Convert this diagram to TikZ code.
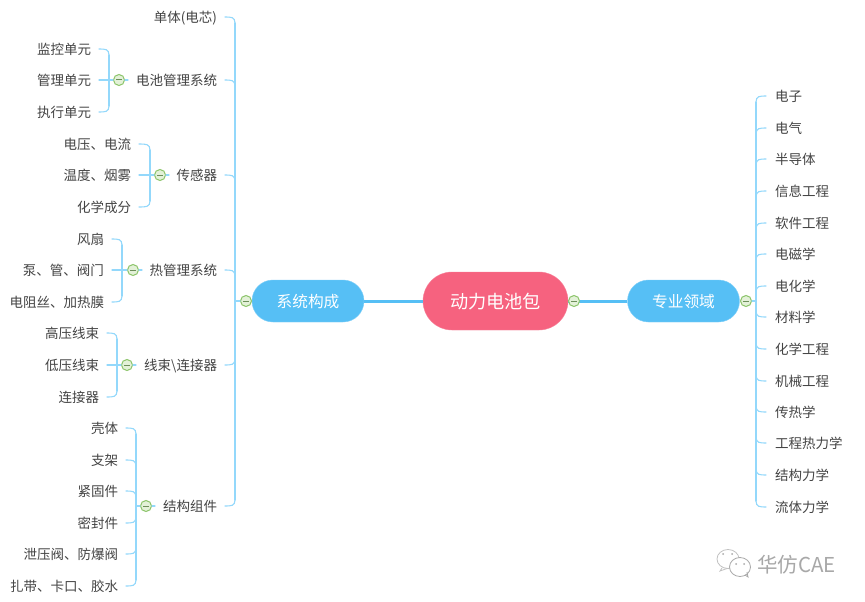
\documentclass[tikz,border=0pt]{standalone}
\usepackage{fontspec}
\setmainfont{Noto Sans CJK SC}
\definecolor{txt}{HTML}{444444}
\definecolor{pink}{HTML}{F6627F}
\definecolor{sky}{HTML}{56BFF5}
\definecolor{branchc}{HTML}{93D8FB}
\definecolor{tog}{HTML}{8CC46A}
\definecolor{togfill}{HTML}{E3F1D8}
\definecolor{minusc}{HTML}{6E8F5A}
\definecolor{wm}{HTML}{A8A8A8}
\tikzset{
  lab/.style={font=\fontsize{13.5}{14}\selectfont,text=txt,inner sep=0pt,outer sep=0pt,text height=12pt,text depth=1pt},
  lableft/.style={lab,anchor=east},
  labright/.style={lab,anchor=west},
  branch/.style={draw=branchc,line width=1.1pt,line cap=round},
  trunk/.style={draw=sky,line width=3pt},
  hubnode/.style={rounded corners=20.9pt,fill=sky,draw=sky!75!white,line width=.4pt,text=white,minimum width=112pt,minimum height=42pt,inner sep=0pt,text height=14pt,text depth=.5pt,font=\fontsize{15.7}{16}\selectfont},
  centernode/.style={rounded corners=28.9pt,fill=pink,draw=pink!80!white,line width=.4pt,text=white,minimum width=145pt,minimum height=58pt,inner sep=0pt,text height=15pt,text depth=1pt,font=\fontsize{18.2}{19}\selectfont},
  togglenode/.style={circle,draw=tog,fill=togfill,line width=1pt,minimum size=11pt,inner sep=0pt}
}
% \togglemk{name}{x}{y}
\newcommand\togglemk[3]{\node[togglenode] (#1) at (#2,#3) {};\draw[minusc,line width=1pt] ([xshift=-3pt]#1.center) -- ([xshift=3pt]#1.center);}
% \lfL{name}{text right x}{y}{text}{spine x}{bend: 1 down, -1 up}
\newcommand\lfL[6]{\node[lableft] (#1) at (#2,#3) {#4};
  \draw[branch] ([xshift=8pt]#1.east) .. controls (#5-4,#3) and (#5,#3) .. (#5,#3+#6*6);}
\newcommand\lfR[6]{\node[labright] (#1) at (#2,#3) {#4};
  \draw[branch] ([xshift=-9pt]#1.west) .. controls (#5+4,#3) and (#5,#3) .. (#5,#3+#6*6);}
\begin{document}
\begin{tikzpicture}[x=1pt,y=-1pt]
\useasboundingbox (0,0) rectangle (865,602);
\fill[white] (0,0) rectangle (865,602);

% spines (free ends are named coordinates)
\coordinate (sL0t) at (235,23); \coordinate (sL0b) at (235,500);
\coordinate (sL1t) at (109,55); \coordinate (sL1b) at (109,106);
\coordinate (sL2t) at (150,150); \coordinate (sL2b) at (150,201);
\coordinate (sL3t) at (122,245); \coordinate (sL3b) at (122,296);
\coordinate (sL4t) at (117,339); \coordinate (sL4b) at (117,391);
\coordinate (sL5t) at (136,434); \coordinate (sL5b) at (136,580);
\coordinate (sRt) at (756,102); \coordinate (sRb) at (756,501);
\foreach \a/\b in {sL0t/sL0b,sL1t/sL1b,sL2t/sL2b,sL3t/sL3b,sL4t/sL4b,sL5t/sL5b,sRt/sRb}
  \draw[branch] (\a) -- (\b);

% trunk
\node[centernode] (center) at (495.5,301) {动力电池包};
\node[hubnode] (sys) at (308,301) {系统构成};
\node[hubnode] (pro) at (683.5,301) {专业领域};
\draw[trunk] (sys) -- (center);
\draw[trunk] (center) -- (pro);
\togglemk{tc}{574}{301}
\togglemk{ts}{246}{301}
\togglemk{tp}{746}{301}
\draw[branch] (ts.west) -- (235,301);
\draw[branch] (tp.east) -- (756,301);

% level 1 left
\lfL{a0}{217}{17}{单体(电芯)}{235}{1}
\lfL{a1}{217}{80}{电池管理系统}{235}{1}
\lfL{a2}{217}{175}{传感器}{235}{1}
\lfL{a3}{217}{270}{热管理系统}{235}{1}
\lfL{a4}{217}{365}{线束\textbackslash 连接器}{235}{-1}
\lfL{a5}{217}{506}{结构组件}{235}{-1}

% BMS
\lfL{b1}{91}{49}{监控单元}{109}{1}
\node[lableft] (b2) at (91,80) {管理单元};
\lfL{b3}{91}{112}{执行单元}{109}{-1}
\togglemk{t1}{119}{80}
\draw[branch] ([xshift=8pt]b2.east) -- (t1.west);
\draw[branch] (t1.east) -- ++(3,0);

% sensors
\lfL{c1}{131}{144}{电压、电流}{150}{1}
\node[lableft] (c2) at (131,175) {温度、烟雾};
\lfL{c3}{131}{207}{化学成分}{150}{-1}
\togglemk{t2}{160}{175}
\draw[branch] ([xshift=8pt]c2.east) -- (t2.west);
\draw[branch] (t2.east) -- ++(3,0);

% thermal
\lfL{d1}{104}{239}{风扇}{122}{1}
\node[lableft] (d2) at (104,270) {泵、管、阀门};
\lfL{d3}{104}{302}{电阻丝、加热膜}{122}{-1}
\togglemk{t3}{133}{270}
\draw[branch] ([xshift=8pt]d2.east) -- (t3.west);
\draw[branch] (t3.east) -- ++(3,0);

% harness
\lfL{e1}{99}{333}{高压线束}{117}{1}
\node[lableft] (e2) at (99,365) {低压线束};
\lfL{e3}{99}{397}{连接器}{117}{-1}
\togglemk{t4}{127}{365}
\draw[branch] ([xshift=8pt]e2.east) -- (t4.west);
\draw[branch] (t4.east) -- ++(3,0);

% structure
\lfL{f1}{118}{428}{壳体}{136}{1}
\lfL{f2}{118}{460}{支架}{136}{1}
\lfL{f3}{118}{491}{紧固件}{136}{1}
\lfL{f4}{118}{523}{密封件}{136}{-1}
\lfL{f5}{118}{554}{泄压阀、防爆阀}{136}{-1}
\lfL{f6}{118}{586}{扎带、卡口、胶水}{136}{-1}
\togglemk{t5}{146}{506}
\draw[branch] (t5.west) -- (136,506);
\draw[branch] (t5.east) -- ++(3,0);

% right
\lfR{r1}{775}{96}{电子}{756}{1}
\lfR{r2}{775}{128}{电气}{756}{1}
\lfR{r3}{775}{159}{半导体}{756}{1}
\lfR{r4}{775}{191}{信息工程}{756}{1}
\lfR{r5}{775}{223}{软件工程}{756}{1}
\lfR{r6}{775}{254}{电磁学}{756}{1}
\lfR{r7}{775}{286}{电化学}{756}{1}
\lfR{r8}{775}{317}{材料学}{756}{-1}
\lfR{r9}{775}{349}{化学工程}{756}{-1}
\lfR{r10}{775}{381}{机械工程}{756}{-1}
\lfR{r11}{775}{412}{传热学}{756}{-1}
\lfR{r12}{775}{443}{工程热力学}{756}{-1}
\lfR{r13}{775}{475}{结构力学}{756}{-1}
\lfR{r14}{775}{507}{流体力学}{756}{-1}

% watermark
\draw[wm!70!white,line width=.8pt,fill=white] (728,559) ellipse (11 and 9.5);
\draw[wm!70!white,line width=.8pt] (722,568) -- (720,571) -- (727,568.5);
\draw[wm,line width=.8pt,fill=white] (740,567) ellipse (10.5 and 9.5);
\draw[wm,line width=.8pt] (745,575) -- (748,577) -- (747,572);
\foreach \p/\q in {723/554,732/554,736/564,744/564} \fill[wm] (\p,\q) circle (1);
\node[anchor=west,inner sep=0pt,text=wm,text height=17pt,text depth=1pt,font=\fontsize{20.5}{21}\selectfont] (wmk) at (757,564) {华仿CAE};
\end{tikzpicture}
\end{document}
